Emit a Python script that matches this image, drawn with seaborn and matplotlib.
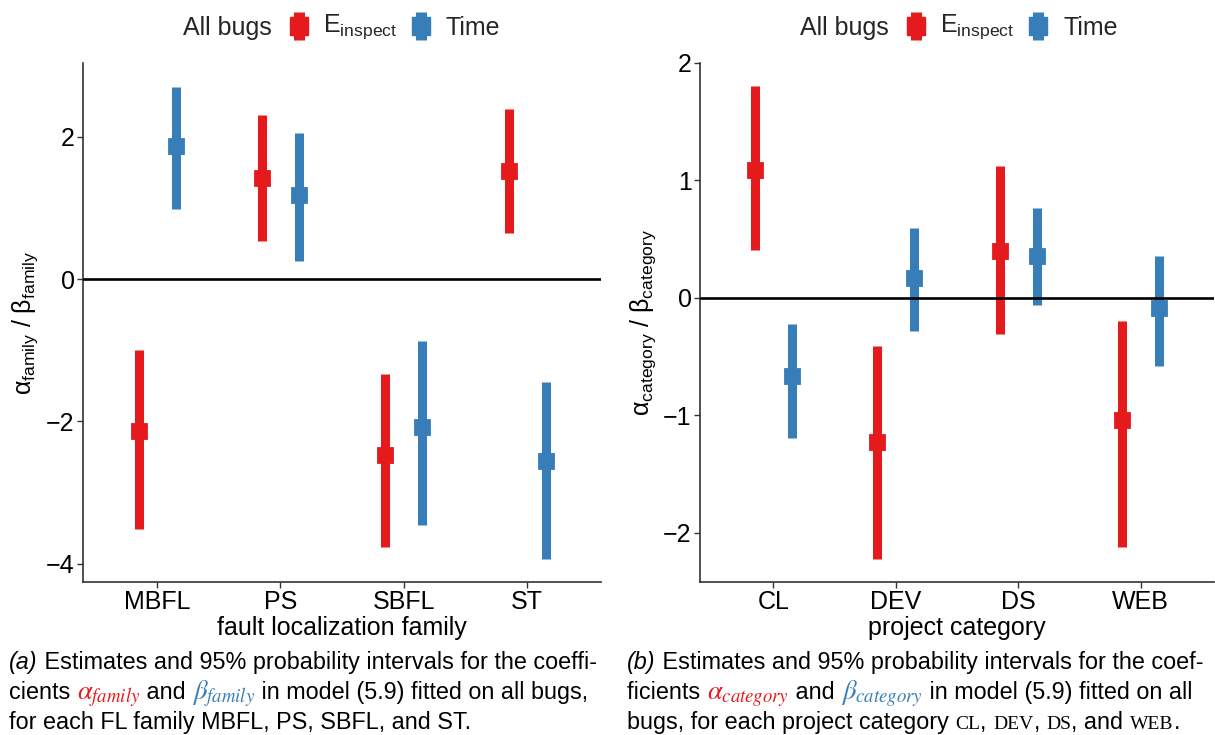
import numpy as np
import pandas as pd
import matplotlib
matplotlib.use("Agg")
import matplotlib.pyplot as plt
import seaborn as sns
from matplotlib.lines import Line2D

# ---------------- data ----------------
families = ["MBFL", "PS", "SBFL", "ST"]
fam_einspect_est = [-2.13, 1.42, -2.48, 1.52]
fam_einspect_lo = [-3.51, 0.54, -3.77, 0.65]
fam_einspect_hi = [-1.00, 2.31, -1.34, 2.40]
fam_time_est = [1.87, 1.18, -2.08, -2.56]
fam_time_lo = [0.98, 0.25, -3.46, -3.93]
fam_time_hi = [2.70, 2.06, -0.87, -1.44]

categories = ["CL", "DEV", "DS", "WEB"]
cat_einspect_est = [1.09, -1.225, 0.40, -1.04]
cat_einspect_lo = [0.41, -2.22, -0.31, -2.12]
cat_einspect_hi = [1.80, -0.41, 1.12, -0.20]
cat_time_est = [-0.665, 0.17, 0.36, -0.09]
cat_time_lo = [-1.19, -0.28, -0.06, -0.58]
cat_time_hi = [-0.22, 0.595, 0.765, 0.355]

series = ["Einspect", "Time"]
legend_labels = [r"E$_\mathregular{inspect}$", "Time"]
colors = ["#E41A1C", "#377EB8"]

W, H = 1215, 735
FONT = ["Liberation Sans", "DejaVu Sans"]
FS = 18

sns.set_theme(style="ticks")
plt.rcParams["font.family"] = FONT
plt.rcParams["mathtext.fontset"] = "custom"
plt.rcParams["mathtext.rm"] = "Liberation Sans"
plt.rcParams["mathtext.it"] = "Liberation Sans:italic"


def long_frame(groups, e_est, e_lo, e_hi, t_est, t_lo, t_hi):
    rows = []
    for i, g in enumerate(groups):
        for s, (est, lo, hi) in zip(series, [(e_est, e_lo, e_hi), (t_est, t_lo, t_hi)]):
            for v in (lo[i], est[i], hi[i]):
                rows.append({"group": g, "series": s, "value": v})
    return pd.DataFrame(rows)


df_fam = long_frame(families, fam_einspect_est, fam_einspect_lo, fam_einspect_hi,
                    fam_time_est, fam_time_lo, fam_time_hi)
df_cat = long_frame(categories, cat_einspect_est, cat_einspect_lo, cat_einspect_hi,
                    cat_time_est, cat_time_lo, cat_time_hi)

fig = plt.figure(figsize=(W / 100, H / 100), dpi=100)
ax1 = fig.add_axes([83 / W, 1 - 582 / H, 518 / W, 519 / H])
ax2 = fig.add_axes([700 / W, 1 - 582 / H, 514 / W, 519 / H])


def draw(ax, df, order, ylabel, xlabel, ylim, yticks):
    sns.pointplot(data=df, x="group", y="value", hue="series", order=order,
                  hue_order=series, estimator="median", errorbar=("pi", 100),
                  dodge=0.3, markers="s", linestyles="none", markersize=10.5,
                  err_kws={"linewidth": 6.5, "solid_capstyle": "butt"},
                  palette=colors, legend=False, ax=ax)
    ax.axhline(0, color="black", lw=1.9, zorder=10)
    ax.set_xlim(-0.6, 3.6)
    ax.set_ylim(*ylim)
    ax.set_yticks(yticks)
    ax.set_xlabel(xlabel, fontsize=FS, color="black", labelpad=1)
    ax.set_ylabel(ylabel, fontsize=FS, color="black", labelpad=4)
    for sp in ["top", "right"]:
        ax.spines[sp].set_visible(False)
    for sp in ["left", "bottom"]:
        ax.spines[sp].set_color("#333333")
        ax.spines[sp].set_linewidth(1.2)
    ax.tick_params(axis="both", labelsize=FS, length=4, width=1, color="#333333",
                   labelcolor="black", pad=2)


draw(ax1, df_fam, families, r"α$_\mathregular{family}$ / β$_\mathregular{family}$",
     "fault localization family", (-4.26, 3.04), [-4, -2, 0, 2])
draw(ax2, df_cat, categories, r"α$_\mathregular{category}$ / β$_\mathregular{category}$",
     "project category", (-2.42, 2.0), [-2, -1, 0, 1, 2])


# ---------------- legends (keys + labels) ----------------
def fx(px):
    return px / W


def fy(py):
    return 1 - py / H


for off in (0, 617):
    fig.text(fx(183 + off), fy(35), "All bugs", fontsize=FS, va="baseline", ha="left")
    for (kx, tx, ty), col, lab in zip([(298.5, 323, 32), (421, 446, 35)], colors, legend_labels):
        fig.add_artist(Line2D([fx(kx + off)], [fy(25.5)], transform=fig.transFigure,
                              color=col, lw=0, marker="|", markersize=20,
                              markeredgewidth=8))
        fig.add_artist(Line2D([fx(kx + off)], [fy(25.5)], transform=fig.transFigure,
                              color=col, lw=0, marker="s", markersize=13.5))
        fig.text(fx(tx + off), fy(ty), lab, fontsize=FS, va="baseline", ha="left")

# ---------------- captions ----------------
renderer = fig.canvas.get_renderer()
CAP = 16.8
sans = dict(fontsize=CAP, family=["Liberation Sans Narrow", "Liberation Sans"], color="black")
sans_it = dict(sans, style="italic")
serif_sc = dict(fontsize=14, family=["Liberation Serif", "DejaVu Serif"], color="black")


def math(col):
    return dict(fontsize=CAP + 2.5, color=col, math_fontfamily="stix")


def place_line(x_px, y_px, pieces):
    x = x_px
    for text, props in pieces:
        t = fig.text(x / W, 1 - y_px / H, text, va="baseline", ha="left", **props)
        x += t.get_window_extent(renderer).width


red, blue = colors
place_line(9, 669, [("(a)", sans_it), (" Estimates and 95% probability intervals for the coeffi-", sans)])
place_line(9, 699, [("cients ", sans), (r"$\alpha_{family}$", math(red)), (" and ", sans),
                    (r"$\beta_{family}$", math(blue)), (" in model (5.9) fitted on all bugs,", sans)])
place_line(9, 729, [("for each FL family MBFL, PS, SBFL, and ST.", sans)])

place_line(627, 669, [("(b)", sans_it), (" Estimates and 95% probability intervals for the coef-", sans)])
place_line(627, 699, [("ficients ", sans), (r"$\alpha_{category}$", math(red)), (" and ", sans),
                      (r"$\beta_{category}$", math(blue)), (" in model (5.9) fitted on all", sans)])
place_line(627, 729, [("bugs, for each project category ", sans), ("CL", serif_sc), (", ", sans),
                      ("DEV", serif_sc), (", ", sans), ("DS", serif_sc), (", and ", sans),
                      ("WEB", serif_sc), (".", sans)])

fig.savefig("out.png", dpi=100)
